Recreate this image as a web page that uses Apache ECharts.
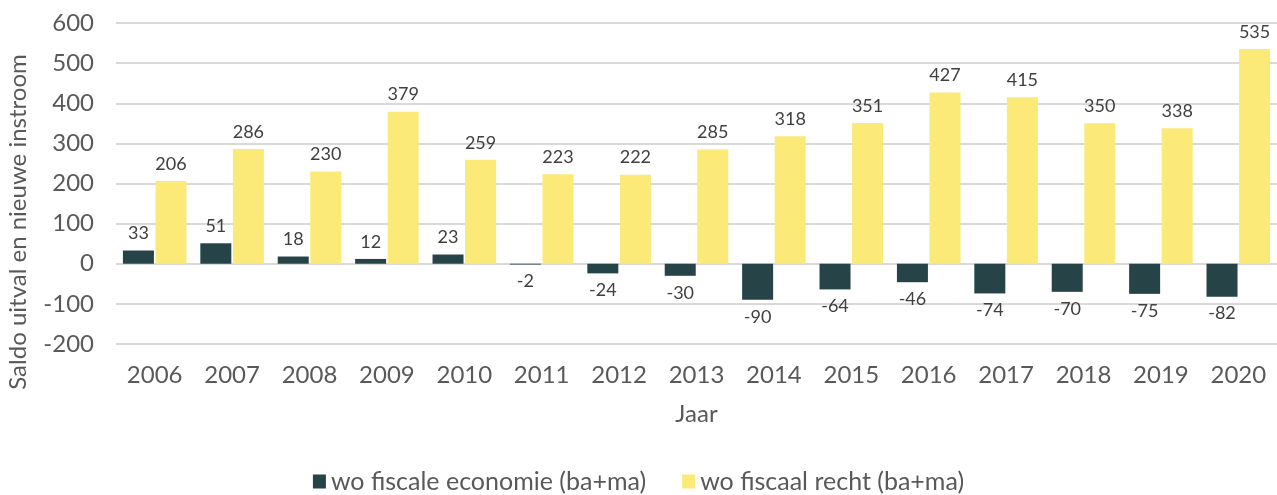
<!DOCTYPE html>
<html>
<head>
<meta charset="utf-8">
<script src="https://cdn.jsdelivr.net/npm/echarts@6/dist/echarts.min.js"></script>
<style>
  html, body { margin: 0; padding: 0; background: #fff; }
  #chart { width: 1277px; height: 495px; }
</style>
</head>
<body>
<div id="chart"></div>
<script>
const jaren = ["2006", "2007", "2008", "2009", "2010", "2011", "2012", "2013", "2014", "2015", "2016", "2017", "2018", "2019", "2020"];
const fiscaleEconomie = [33, 51, 18, 12, 23, -2, -24, -30, -90, -64, -46, -74, -70, -75, -82];
const fiscaalRecht = [206, 286, 230, 379, 259, 223, 222, 285, 318, 351, 427, 415, 350, 338, 535];

const fontFam = "Lato, 'Open Sans', sans-serif";

function metLabels(waarden) {
  return waarden.map(function (v) {
    return { value: v, label: { position: v < 0 ? "bottom" : "top" } };
  });
}

let myChart = echarts.init(document.getElementById("chart"));

let option = {
  textStyle: { fontFamily: fontFam },
  grid: { left: 116, right: 0, top: 23, bottom: 151 },
  legend: {
    bottom: -4,
    left: "center",
    itemWidth: 13,
    itemHeight: 14,
    itemGap: 36,
    icon: "rect",
    textStyle: { fontSize: 25, color: "#595959", fontFamily: fontFam, padding: [0, 0, 0, 0] },
    data: ["wo fiscale economie (ba+ma)", "wo fiscaal recht (ba+ma)"],
  },
  graphic: [
    {
      type: "text",
      x: 18,
      y: 222,
      rotation: Math.PI / 2,
      style: {
        text: "Saldo uitval en nieuwe instroom",
        fontSize: 24,
        fontFamily: fontFam,
        fill: "#595959",
        align: "center",
        verticalAlign: "middle",
      },
    },
  ],
  xAxis: {
    type: "category",
    data: jaren,
    name: "Jaar",
    nameLocation: "middle",
    nameGap: 58,
    nameTextStyle: { fontSize: 24, color: "#595959" },
    axisLine: { show: false },
    axisTick: { show: false },
    axisLabel: { fontSize: 24, color: "#595959", margin: 19 },
  },
  yAxis: {
    type: "value",
    min: -200,
    max: 600,
    interval: 100,
    axisLine: { show: false },
    axisTick: { show: false },
    axisLabel: { fontSize: 24, color: "#595959", margin: 22 },
    splitLine: { lineStyle: { color: "#d9d9d9", width: 2 } },
  },
  series: [
    {
      name: "wo fiscale economie (ba+ma)",
      type: "bar",
      data: metLabels(fiscaleEconomie),
      barWidth: 31,
      barGap: "5%",
      itemStyle: { color: "#264348" },
      label: { show: true, fontSize: 18, color: "#404040", distance: 8 },
    },
    {
      name: "wo fiscaal recht (ba+ma)",
      type: "bar",
      data: metLabels(fiscaalRecht),
      barWidth: 31,
      barGap: "5%",
      itemStyle: { color: "#FCEA78" },
      label: { show: true, fontSize: 18, color: "#404040", distance: 8 },
    },
  ],
};
option && myChart.setOption(option);
</script>
</body>
</html>
